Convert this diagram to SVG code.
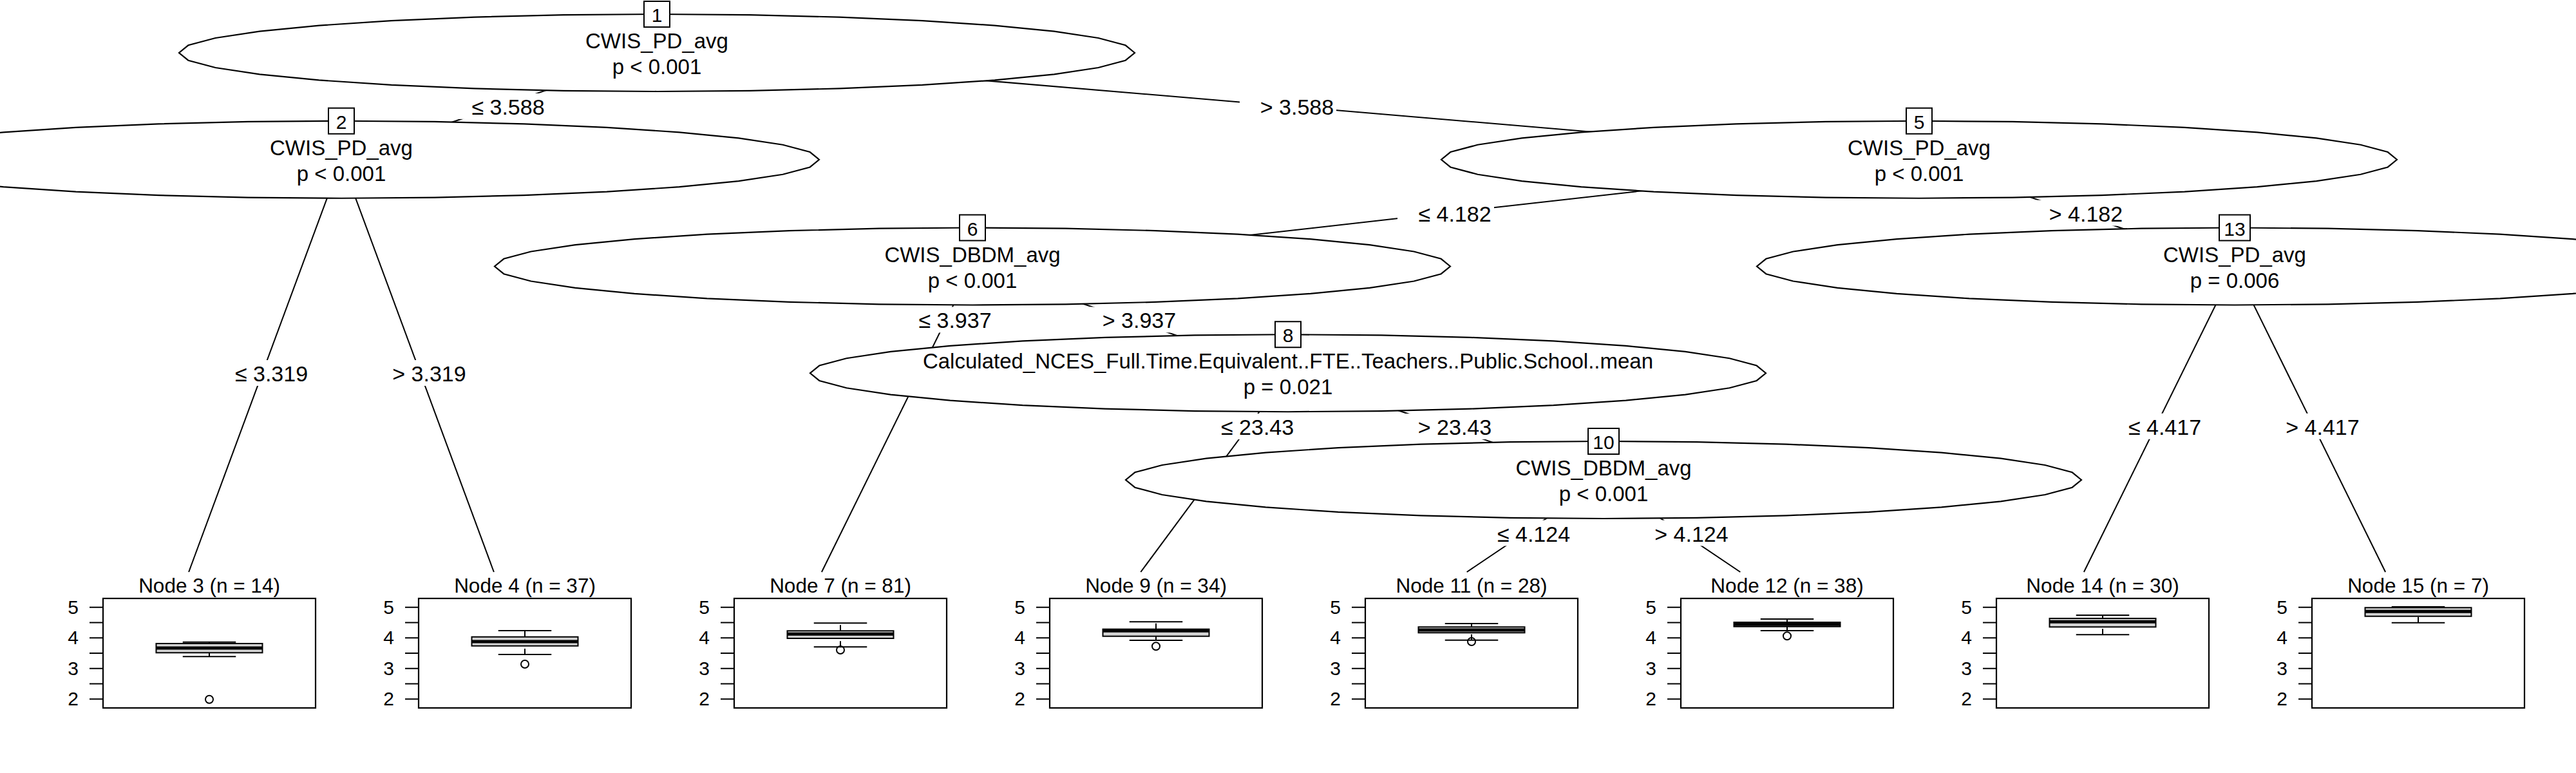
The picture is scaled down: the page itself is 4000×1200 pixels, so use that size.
<svg xmlns="http://www.w3.org/2000/svg" xmlns:xlink="http://www.w3.org/1999/xlink" width="4000" height="1200" viewBox="0 0 4000 1200">
<style>
text{font-family:"Liberation Sans",Arial,Helvetica,sans-serif;fill:#000}
.t{font-size:33px;text-anchor:middle}
.id{font-size:30px;text-anchor:middle}
.el{font-size:34px;text-anchor:middle}
.title{font-size:31.5px;text-anchor:middle}
.tick{font-size:30px;text-anchor:end}
.ln{stroke:#000;stroke-width:2;fill:none}
.bg{fill:#fff;stroke:none}
.ell{fill:#fff;stroke:#000;stroke-width:2.2;stroke-linejoin:miter}
.idb{fill:#fff;stroke:#000;stroke-width:2}
.panel{fill:none;stroke:#000;stroke-width:2.2}
.box{fill:#d3d3d3;stroke:#000;stroke-width:2}
.med{stroke:#000;stroke-width:5;fill:none}
.wh{stroke:#000;stroke-width:2;stroke-dasharray:9 9;fill:none}
.out{fill:none;stroke:#000;stroke-width:2}
</style>
<defs>
<path id="ell" class="ell" d="M742 0l-14.3-11.7-42.2-11.3-68.6-10.3-92.2-9.1-112.5-7.5-128.3-5.5-139.1-3.4-144.8-1.2-144.8 1.2-139.1 3.4-128.3 5.5-112.5 7.5-92.2 9.1-68.6 10.3-42.2 11.3-14.3 11.7 14.3 11.7 42.2 11.3 68.6 10.3 92.2 9.1 112.5 7.5 128.3 5.5 139.1 3.4 144.8 1.2 144.8-1.2 139.1-3.4 128.3-5.5 112.5-7.5 92.2-9.1 68.6-10.3 42.2-11.3z"/>
<g id="frame">
<rect class="panel" x="-125" y="929" width="330" height="170"/>
<path class="ln" d="M-146 942.7h21M-146 966.5h21M-146 990.2h21M-146 1014h21M-146 1037.8h21M-146 1061.6h21M-146 1085.3h21"/>
<text class="tick" x="-163" y="952.7">5</text>
<text class="tick" x="-163" y="1000.2">4</text>
<text class="tick" x="-163" y="1047.8">3</text>
<text class="tick" x="-163" y="1095.3">2</text>
</g>
</defs>

<g id="connectors">
<line class="ln" x1="1020" y1="82" x2="530" y2="247.75"/>
<line class="ln" x1="1020" y1="82" x2="2980" y2="247.75"/>
<line class="ln" x1="2980" y1="247.75" x2="1510" y2="413.5"/>
<line class="ln" x1="2980" y1="247.75" x2="3470" y2="413.5"/>
<line class="ln" x1="1510" y1="413.5" x2="2000" y2="579.25"/>
<line class="ln" x1="2000" y1="579.25" x2="2490" y2="745"/>
<line class="ln" x1="530" y1="247.75" x2="293.1" y2="888"/>
<line class="ln" x1="530" y1="247.75" x2="766.9" y2="888"/>
<line class="ln" x1="1510" y1="413.5" x2="1275.9" y2="888"/>
<line class="ln" x1="2000" y1="579.25" x2="1771.3" y2="888"/>
<line class="ln" x1="2490" y1="745" x2="2277.7" y2="888"/>
<line class="ln" x1="2490" y1="745" x2="2702.3" y2="888"/>
<line class="ln" x1="3470" y1="413.5" x2="3235.9" y2="888"/>
<line class="ln" x1="3470" y1="413.5" x2="3704.1" y2="888"/>
<g id="edge-labels">
<rect class="bg" x="700" y="144.9" width="150" height="40"/><text class="el" x="789" y="178">≤ 3.588</text>
<rect class="bg" x="1925" y="144.9" width="150" height="40"/><text class="el" x="2014" y="178">&gt; 3.588</text>
<rect class="bg" x="332.5" y="559" width="150" height="40"/><text class="el" x="421.5" y="592">≤ 3.319</text>
<rect class="bg" x="577.5" y="559" width="150" height="40"/><text class="el" x="666.5" y="592">&gt; 3.319</text>
<rect class="bg" x="2170" y="310.6" width="150" height="40"/><text class="el" x="2259" y="343.6">≤ 4.182</text>
<rect class="bg" x="3150" y="310.6" width="150" height="40"/><text class="el" x="3239" y="343.6">&gt; 4.182</text>
<rect class="bg" x="1394.1" y="476.4" width="150" height="40"/><text class="el" x="1483" y="509.4">≤ 3.937</text>
<rect class="bg" x="1680" y="476.4" width="150" height="40"/><text class="el" x="1769" y="509.4">&gt; 3.937</text>
<rect class="bg" x="1863.6" y="642.1" width="150" height="40"/><text class="el" x="1952.6" y="675.1">≤ 23.43</text>
<rect class="bg" x="2170" y="642.1" width="150" height="40"/><text class="el" x="2259" y="675.1">&gt; 23.43</text>
<rect class="bg" x="2292.5" y="807.5" width="150" height="40"/><text class="el" x="2381.5" y="840.5">≤ 4.124</text>
<rect class="bg" x="2537.5" y="807.5" width="150" height="40"/><text class="el" x="2626.5" y="840.5">&gt; 4.124</text>
<rect class="bg" x="3272.5" y="641.75" width="150" height="40"/><text class="el" x="3361.5" y="674.75">≤ 4.417</text>
<rect class="bg" x="3517.5" y="641.75" width="150" height="40"/><text class="el" x="3606.5" y="674.75">&gt; 4.417</text>
</g>
</g>

<g id="node1"><use xlink:href="#ell" href="#ell" x="1020" y="82"/><rect class="idb" x="1000" y="2" width="40" height="40"/><text class="id" x="1020" y="34">1</text><text class="t" x="1020" y="75">CWIS_PD_avg</text><text class="t" x="1020" y="115">p &lt; 0.001</text></g>
<g id="node2"><use xlink:href="#ell" href="#ell" x="530" y="247.75"/><rect class="idb" x="510" y="167.75" width="40" height="40"/><text class="id" x="530" y="199.75">2</text><text class="t" x="530" y="240.75">CWIS_PD_avg</text><text class="t" x="530" y="280.75">p &lt; 0.001</text></g>
<g id="node5"><use xlink:href="#ell" href="#ell" x="2980" y="247.75"/><rect class="idb" x="2960" y="167.75" width="40" height="40"/><text class="id" x="2980" y="199.75">5</text><text class="t" x="2980" y="240.75">CWIS_PD_avg</text><text class="t" x="2980" y="280.75">p &lt; 0.001</text></g>
<g id="node6"><use xlink:href="#ell" href="#ell" x="1510" y="413.5"/><rect class="idb" x="1490" y="333.5" width="40" height="40"/><text class="id" x="1510" y="365.5">6</text><text class="t" x="1510" y="406.5">CWIS_DBDM_avg</text><text class="t" x="1510" y="446.5">p &lt; 0.001</text></g>
<g id="node8"><use xlink:href="#ell" href="#ell" x="2000" y="579.25"/><rect class="idb" x="1980" y="499.25" width="40" height="40"/><text class="id" x="2000" y="531.25">8</text><text class="t" x="2000" y="572.25">Calculated_NCES_Full.Time.Equivalent..FTE..Teachers..Public.School..mean</text><text class="t" x="2000" y="612.25">p = 0.021</text></g>
<g id="node10"><use xlink:href="#ell" href="#ell" x="2490" y="745"/><rect class="idb" x="2466" y="665" width="48" height="40"/><text class="id" x="2490" y="697">10</text><text class="t" x="2490" y="738">CWIS_DBDM_avg</text><text class="t" x="2490" y="778">p &lt; 0.001</text></g>
<g id="node13"><use xlink:href="#ell" href="#ell" x="3470" y="413.5"/><rect class="idb" x="3446" y="333.5" width="48" height="40"/><text class="id" x="3470" y="365.5">13</text><text class="t" x="3470" y="406.5">CWIS_PD_avg</text><text class="t" x="3470" y="446.5">p = 0.006</text></g>

<g id="node3" transform="translate(285,0)"><text class="title" x="40" y="920">Node 3 (n = 14)</text><use xlink:href="#frame" href="#frame"/>
<path class="wh" d="M40 999V996.7M40 1019.3V1013.3"/><path class="ln" d="M-1.25 996.7H81.25M-1.25 1019.3H81.25"/>
<rect class="box" x="-42.5" y="999" width="165" height="14.3"/><path class="med" d="M-42.5 1006H122.5"/><circle class="out" cx="40" cy="1085.7" r="6"/></g>

<g id="node4" transform="translate(775,0)"><text class="title" x="40" y="920">Node 4 (n = 37)</text><use xlink:href="#frame" href="#frame"/>
<path class="wh" d="M40 988.7V979M40 1016V1002.7"/><path class="ln" d="M-1.25 979H81.25M-1.25 1016H81.25"/>
<rect class="box" x="-42.5" y="988.7" width="165" height="14"/><path class="med" d="M-42.5 996H122.5"/><circle class="out" cx="40" cy="1031" r="6"/></g>

<g id="node7" transform="translate(1265,0)"><text class="title" x="40" y="920">Node 7 (n = 81)</text><use xlink:href="#frame" href="#frame"/>
<path class="wh" d="M40 979.3V967.3M40 1004.3V991"/><path class="ln" d="M-1.25 967.3H81.25M-1.25 1004.3H81.25"/>
<rect class="box" x="-42.5" y="979.3" width="165" height="11.7"/><path class="med" d="M-42.5 984.3H122.5"/><circle class="out" cx="40" cy="1009" r="6"/></g>

<g id="node9" transform="translate(1755,0)"><text class="title" x="40" y="920">Node 9 (n = 34)</text><use xlink:href="#frame" href="#frame"/>
<path class="wh" d="M40 976.7V965.3M40 994V987.7"/><path class="ln" d="M-1.25 965.3H81.25M-1.25 994H81.25"/>
<rect class="box" x="-42.5" y="976.7" width="165" height="11"/><path class="med" d="M-42.5 979.3H122.5"/><circle class="out" cx="40" cy="1003.3" r="6"/></g>

<g id="node11" transform="translate(2245,0)"><text class="title" x="40" y="920">Node 11 (n = 28)</text><use xlink:href="#frame" href="#frame"/>
<path class="wh" d="M40 973.3V968M40 993.7V982.3"/><path class="ln" d="M-1.25 968H81.25M-1.25 993.7H81.25"/>
<rect class="box" x="-42.5" y="973.3" width="165" height="9"/><path class="med" d="M-42.5 978H122.5"/><circle class="out" cx="40" cy="996" r="6"/></g>

<g id="node12" transform="translate(2735,0)"><text class="title" x="40" y="920">Node 12 (n = 38)</text><use xlink:href="#frame" href="#frame"/>
<path class="wh" d="M40 966V961M40 979V972.7"/><path class="ln" d="M-1.25 961H81.25M-1.25 979H81.25"/>
<rect class="box" x="-42.5" y="966" width="165" height="6.7"/><path class="med" d="M-42.5 969.3H122.5"/><circle class="out" cx="40" cy="987.3" r="6"/></g>

<g id="node14" transform="translate(3225,0)"><text class="title" x="40" y="920">Node 14 (n = 30)</text><use xlink:href="#frame" href="#frame"/>
<path class="wh" d="M40 960V955M40 985.3V973.3"/><path class="ln" d="M-1.25 955H81.25M-1.25 985.3H81.25"/>
<rect class="box" x="-42.5" y="960" width="165" height="13.3"/><path class="med" d="M-42.5 965.3H122.5"/></g>

<g id="node15" transform="translate(3715,0)"><text class="title" x="40" y="920">Node 15 (n = 7)</text><use xlink:href="#frame" href="#frame"/>
<path class="wh" d="M40 943.3V942M40 966.7V956.7"/><path class="ln" d="M-1.25 942H81.25M-1.25 966.7H81.25"/>
<rect class="box" x="-42.5" y="943.3" width="165" height="13.4"/><path class="med" d="M-42.5 949.3H122.5"/></g>
</svg>
